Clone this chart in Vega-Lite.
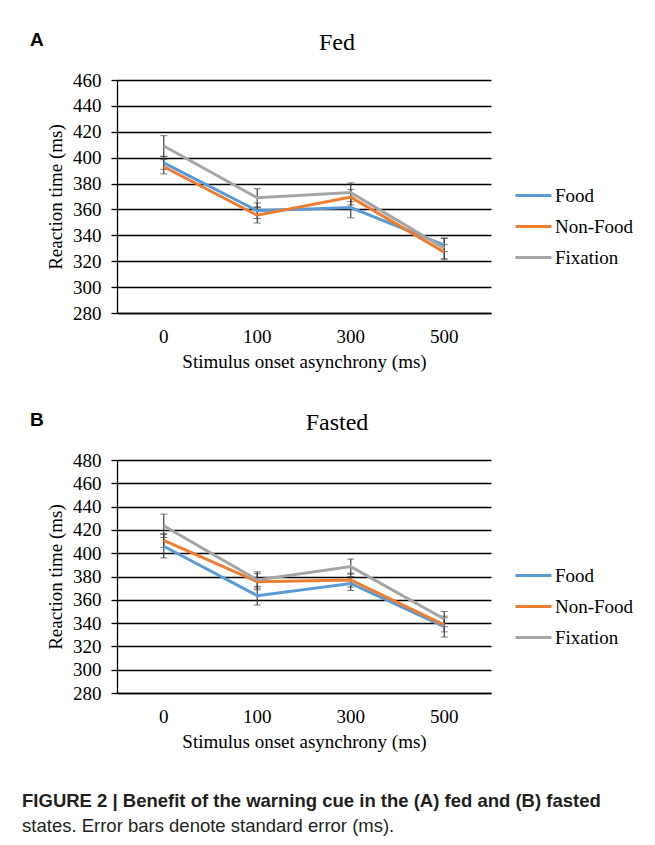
{
  "$schema": "https://vega.github.io/schema/vega-lite/v6.json",
  "background": "white",
  "padding": {"left": 22, "top": 31, "right": 5, "bottom": 5},
  "datasets": {
    "fed": [
      {"soa": 0, "series": "Food", "rt": 396, "lo": 391, "hi": 401},
      {"soa": 100, "series": "Food", "rt": 359, "lo": 353, "hi": 365},
      {"soa": 300, "series": "Food", "rt": 361.5, "lo": 353.5, "hi": 369.5},
      {"soa": 500, "series": "Food", "rt": 332.5, "lo": 327.5, "hi": 337.5},
      {"soa": 0, "series": "Non-Food", "rt": 393, "lo": 387.5, "hi": 398.5},
      {"soa": 100, "series": "Non-Food", "rt": 355.5, "lo": 349.5, "hi": 361.5},
      {"soa": 300, "series": "Non-Food", "rt": 369.5, "lo": 363.5, "hi": 375.5},
      {"soa": 500, "series": "Non-Food", "rt": 327, "lo": 321, "hi": 333},
      {"soa": 0, "series": "Fixation", "rt": 409, "lo": 401, "hi": 417},
      {"soa": 100, "series": "Fixation", "rt": 369, "lo": 362, "hi": 376},
      {"soa": 300, "series": "Fixation", "rt": 373, "lo": 366, "hi": 380.5},
      {"soa": 500, "series": "Fixation", "rt": 330, "lo": 322, "hi": 338}
    ],
    "fasted": [
      {"soa": 0, "series": "Food", "rt": 406, "lo": 396, "hi": 416},
      {"soa": 100, "series": "Food", "rt": 363.5, "lo": 355.5, "hi": 371.5},
      {"soa": 300, "series": "Food", "rt": 374, "lo": 368, "hi": 380},
      {"soa": 500, "series": "Food", "rt": 337, "lo": 328, "hi": 346},
      {"soa": 0, "series": "Non-Food", "rt": 411, "lo": 405, "hi": 417},
      {"soa": 100, "series": "Non-Food", "rt": 375.5, "lo": 368.5, "hi": 382.5},
      {"soa": 300, "series": "Non-Food", "rt": 377, "lo": 371, "hi": 383},
      {"soa": 500, "series": "Non-Food", "rt": 338.5, "lo": 332.5, "hi": 344.5},
      {"soa": 0, "series": "Fixation", "rt": 423.5, "lo": 413.5, "hi": 433.5},
      {"soa": 100, "series": "Fixation", "rt": 377, "lo": 370, "hi": 384},
      {"soa": 300, "series": "Fixation", "rt": 388.5, "lo": 382, "hi": 395},
      {"soa": 500, "series": "Fixation", "rt": 343.5, "lo": 337, "hi": 350}
    ]
  },
  "title": {
    "text": "FIGURE 2 | Benefit of the warning cue in the (A) fed and (B) fasted",
    "subtitle": "states. Error bars denote standard error (ms).",
    "orient": "bottom",
    "anchor": "start",
    "frame": "bounds",
    "offset": 41,
    "dx": -8,
    "font": "Liberation Sans, Arial, sans-serif",
    "fontSize": 18.5,
    "fontWeight": "bold",
    "color": "#231f20",
    "subtitleFont": "Liberation Sans, Arial, sans-serif",
    "subtitleFontSize": 18.5,
    "subtitleColor": "#231f20",
    "subtitlePadding": 6
  },
  "spacing": 40,
  "resolve": {"scale": {"color": "independent", "y": "independent", "x": "independent"}, "legend": {"color": "independent"}},
  "vconcat": [
    {
      "title": {"text": "A", "orient": "left", "anchor": "end", "frame": "bounds", "angle": 0, "align": "right", "baseline": "top", "offset": -11, "font": "Liberation Sans, Arial, sans-serif", "fontWeight": "bold", "fontSize": 19, "color": "#000000"},
      "vconcat": [
        {
          "width": 374,
          "height": 233,
          "title": {"text": "Fed", "dx": 33},
          "data": {"name": "fed"},
          "encoding": {
            "x": {"field": "soa", "type": "ordinal", "title": "Stimulus onset asynchrony (ms)", "scale": {"paddingInner": 0, "paddingOuter": 0}},
            "y": {"field": "rt", "type": "quantitative", "title": "Reaction time (ms)", "scale": {"domain": [280, 460], "nice": false, "zero": false}, "axis": {"values": [280, 300, 320, 340, 360, 380, 400, 420, 440, 460]}}
          },
          "layer": [
            {
              "mark": {"type": "errorbar", "ticks": {"size": 7, "color": "#404040", "strokeWidth": 1.2}, "rule": {"color": "#404040", "strokeWidth": 1.2}},
              "encoding": {"y": {"field": "lo", "type": "quantitative"}, "y2": {"field": "hi"}, "detail": {"field": "series"}}
            },
            {
              "mark": {"type": "line", "strokeWidth": 3},
              "encoding": {
                "color": {"field": "series", "type": "nominal", "scale": {"domain": ["Food", "Non-Food", "Fixation"], "range": ["#5B9BD5", "#ED7D31", "#A5A5A5"]},
                  "legend": {"title": null, "orient": "none", "legendX": 397, "legendY": 96}}
              }
            }
          ]
        }
      ]
    },
    {
      "title": {"text": "B", "orient": "left", "anchor": "end", "frame": "bounds", "angle": 0, "align": "right", "baseline": "top", "offset": -11, "font": "Liberation Sans, Arial, sans-serif", "fontWeight": "bold", "fontSize": 19, "color": "#000000"},
      "vconcat": [
        {
          "width": 374,
          "height": 233,
          "title": {"text": "Fasted", "dx": 33},
          "data": {"name": "fasted"},
          "encoding": {
            "x": {"field": "soa", "type": "ordinal", "title": "Stimulus onset asynchrony (ms)", "scale": {"paddingInner": 0, "paddingOuter": 0}},
            "y": {"field": "rt", "type": "quantitative", "title": "Reaction time (ms)", "scale": {"domain": [280, 480], "nice": false, "zero": false}, "axis": {"values": [280, 300, 320, 340, 360, 380, 400, 420, 440, 460, 480]}}
          },
          "layer": [
            {
              "mark": {"type": "errorbar", "ticks": {"size": 7, "color": "#404040", "strokeWidth": 1.2}, "rule": {"color": "#404040", "strokeWidth": 1.2}},
              "encoding": {"y": {"field": "lo", "type": "quantitative"}, "y2": {"field": "hi"}, "detail": {"field": "series"}}
            },
            {
              "mark": {"type": "line", "strokeWidth": 3},
              "encoding": {
                "color": {"field": "series", "type": "nominal", "scale": {"domain": ["Food", "Non-Food", "Fixation"], "range": ["#5B9BD5", "#ED7D31", "#A5A5A5"]},
                  "legend": {"title": null, "orient": "none", "legendX": 397, "legendY": 96}}
              }
            }
          ]
        }
      ]
    }
  ],
  "config": {
    "view": {"stroke": null},
    "font": "Liberation Serif",
    "title": {"font": "Liberation Serif", "fontSize": 24, "fontWeight": "normal", "color": "#000000", "anchor": "middle", "baseline": "alphabetic", "offset": 16},
    "axis": {
      "labelFont": "Liberation Serif", "labelFontSize": 19, "labelColor": "#000000",
      "titleFont": "Liberation Serif", "titleFontSize": 19, "titleFontWeight": "normal", "titleColor": "#000000",
      "domainColor": "#000000", "domainWidth": 1.3, "tickColor": "#000000", "tickWidth": 1.3,
      "gridColor": "#000000", "gridWidth": 1.3, "gridOpacity": 1
    },
    "axisX": {"labelAngle": 0, "ticks": false, "grid": false, "labelPadding": 14, "titlePadding": 6},
    "axisY": {"tickSize": 6, "labelPadding": 10, "titlePadding": 7, "grid": true, "domain": true},
    "legend": {"labelFont": "Liberation Serif", "labelFontSize": 19, "labelColor": "#000000", "symbolType": "stroke", "symbolSize": 1296, "symbolStrokeWidth": 3, "labelOffset": 2, "rowPadding": 1}
  }
}
